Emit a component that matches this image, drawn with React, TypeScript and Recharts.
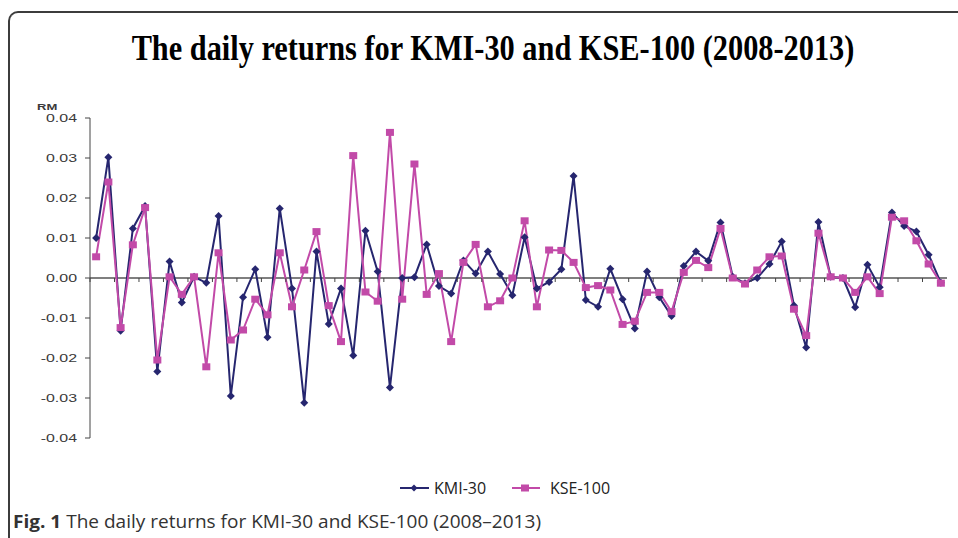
import { LineChart, Line, XAxis, YAxis, ReferenceLine } from "recharts";

const W = 958;
const H = 538;
const PLOT_LEFT = 90;
const PLOT_RIGHT = 947;
const PLOT_TOP = 118;
const PLOT_BOTTOM = 438;
const HALF = (PLOT_RIGHT - PLOT_LEFT) / 70 / 2;
const ZERO_Y = (PLOT_TOP + PLOT_BOTTOM) / 2;

const KMI_COLOR = "#26266f";
const KSE_COLOR = "#c24aa8";
const AXIS_COLOR = "#444";

// daily returns
const kmi30 = [
  0.01, 0.0302, -0.0132, 0.0124, 0.018, -0.0234, 0.0041, -0.0061, 0.0003, -0.0012,
  0.0155, -0.0295, -0.0048, 0.0022, -0.0148, 0.0174, -0.0026, -0.0312, 0.0066, -0.0115,
  -0.0026, -0.0194, 0.0118, 0.0016, -0.0274, 0.0, 0.0002, 0.0084, -0.002, -0.0039,
  0.0044, 0.0011, 0.0066, 0.001, -0.0043, 0.0102, -0.0026, -0.001, 0.0022, 0.0255,
  -0.0055, -0.0072, 0.0023, -0.0053, -0.0126, 0.0016, -0.0048, -0.0095, 0.003, 0.0066,
  0.0043, 0.0139, 0.0003, -0.0013, 0.0, 0.0035, 0.0091, -0.0069, -0.0174, 0.014,
  0.0003, 0.0, -0.0073, 0.0033, -0.0023, 0.0164, 0.013, 0.0116, 0.0058, -0.0012,
];

const kse100 = [
  0.0053, 0.024, -0.0124, 0.0083, 0.0176, -0.0205, 0.0003, -0.0041, 0.0003, -0.0222,
  0.0063, -0.0155, -0.013, -0.0053, -0.0092, 0.0063, -0.0072, 0.002, 0.0116, -0.0069,
  -0.0159, 0.0306, -0.0035, -0.0058, 0.0364, -0.0053, 0.0285, -0.0041, 0.0011, -0.0159,
  0.0039, 0.0084, -0.0072, -0.0057, 0.0, 0.0143, -0.0072, 0.007, 0.0069, 0.0039,
  -0.0024, -0.0019, -0.003, -0.0116, -0.0108, -0.0036, -0.0036, -0.0084, 0.0014, 0.0044,
  0.0026, 0.0124, 0.0, -0.0015, 0.002, 0.0053, 0.0055, -0.0078, -0.0144, 0.0112,
  0.0003, 0.0, -0.0036, 0.0003, -0.0039, 0.0152, 0.0143, 0.0093, 0.0035, -0.0013,
];

const days = kmi30.map((_, i) => String(i + 1));
const yTicks = [-0.04, -0.03, -0.02, -0.01, 0, 0.01, 0.02, 0.03, 0.04];

const data = days.map((day, i) => ({ day, kmi: kmi30[i], kse: kse100[i] }));

function Diamond({ cx, cy, r = 4, fill }: { cx: number; cy: number; r?: number; fill: string }) {
  return (
    <polygon
      points={`${cx},${cy - r} ${cx + r},${cy} ${cx},${cy + r} ${cx - r},${cy}`}
      fill={fill}
    />
  );
}

function Square({ cx, cy, fill }: { cx: number; cy: number; fill: string }) {
  return <rect x={cx - 4} y={cy - 3.5} width={8} height={7} fill={fill} />;
}

function XTick(props: any) {
  const x = props.x - HALF;
  return <line x1={x} x2={x} y1={ZERO_Y} y2={ZERO_Y + 4} stroke={AXIS_COLOR} strokeWidth={1} />;
}

function YTick(props: any) {
  const { x, y, payload } = props;
  return (
    <text
      transform={`translate(${x},${y + 4}) scale(1.45,1)`}
      textAnchor="end"
      fontFamily="'Liberation Sans', Arial, sans-serif"
      fontSize={11}
      fill="#3a3a3a"
    >
      {Number(payload.value).toFixed(2)}
    </text>
  );
}

export default function App() {
  return (
    <div style={{ position: "absolute", left: 0, top: 0, width: W, height: H, background: "#fff", overflow: "hidden" }}>
      <div
        style={{
          position: "absolute",
          left: 8,
          top: 11,
          width: W,
          height: H,
          borderTop: "2px solid #3c3c3c",
          borderLeft: "2px solid #3c3c3c",
          borderTopLeftRadius: 10,
        }}
      />
      <div style={{ position: "absolute", left: 0, top: 0 }}>
        <LineChart
          width={W}
          height={H}
          data={data}
          margin={{ top: PLOT_TOP, bottom: H - PLOT_BOTTOM - 1, left: PLOT_LEFT - 60, right: W - PLOT_RIGHT }}
        >
          <XAxis
            dataKey="day"
            height={1}
            padding={{ left: HALF, right: HALF }}
            axisLine={false}
            tickLine={false}
            interval={1}
            tick={<XTick />}
          />
          <YAxis
            width={60}
            domain={[-0.04, 0.04]}
            ticks={yTicks}
            interval={0}
            axisLine={{ stroke: AXIS_COLOR, strokeWidth: 1 }}
            tickLine={{ stroke: AXIS_COLOR, strokeWidth: 1 }}
            tickSize={5}
            tickMargin={8}
            tick={<YTick />}
          />
          <ReferenceLine y={0} stroke="#555" strokeWidth={1.5} />
          <Line
            type="linear"
            dataKey="kmi"
            stroke={KMI_COLOR}
            strokeWidth={2}
            isAnimationActive={false}
            dot={(p: any) => <Diamond key={`k${p.index}`} cx={p.cx} cy={p.cy} fill={KMI_COLOR} />}
            activeDot={false}
          />
          <Line
            type="linear"
            dataKey="kse"
            stroke={KSE_COLOR}
            strokeWidth={2}
            isAnimationActive={false}
            dot={(p: any) => <Square key={`s${p.index}`} cx={p.cx} cy={p.cy} fill={KSE_COLOR} />}
            activeDot={false}
          />
        </LineChart>
      </div>
      <svg width={W} height={H} style={{ position: "absolute", left: 0, top: 0, pointerEvents: "none" }}>
        <text
          transform="translate(493,60) scale(0.843,1)"
          textAnchor="middle"
          fontFamily="'Liberation Serif', 'Times New Roman', serif"
          fontWeight="bold"
          fontSize={36}
          fill="#000"
        >
          The daily returns for KMI-30 and KSE-100 (2008-2013)
        </text>
        <text
          transform="translate(37,110) scale(1.45,1)"
          fontFamily="'Liberation Sans', Arial, sans-serif"
          fontWeight="bold"
          fontSize={9}
          fill="#3a3a3a"
        >
          RM
        </text>
        {/* legend */}
        <line x1={400} x2={429} y1={488} y2={488} stroke={KMI_COLOR} strokeWidth={2} />
        <Diamond cx={414} cy={488} r={3.5} fill={KMI_COLOR} />
        <text x={434} y={494} fontFamily="'Open Sans', sans-serif" fontSize={16} fill="#222">
          KMI-30
        </text>
        <line x1={512} x2={540} y1={488} y2={488} stroke={KSE_COLOR} strokeWidth={2} />
        <Square cx={525} cy={488} fill={KSE_COLOR} />
        <text x={550} y={494} fontFamily="'Open Sans', sans-serif" fontSize={16} fill="#222">
          KSE-100
        </text>
        <text
          x={13}
          y={528}
          textLength={528}
          lengthAdjust="spacingAndGlyphs"
          fontFamily="'Open Sans', sans-serif"
          fontSize={18}
          fill="#333"
        >
          <tspan fontWeight="bold">Fig. 1</tspan> The daily returns for KMI-30 and KSE-100 (2008–2013)
        </text>
      </svg>
    </div>
  );
}
